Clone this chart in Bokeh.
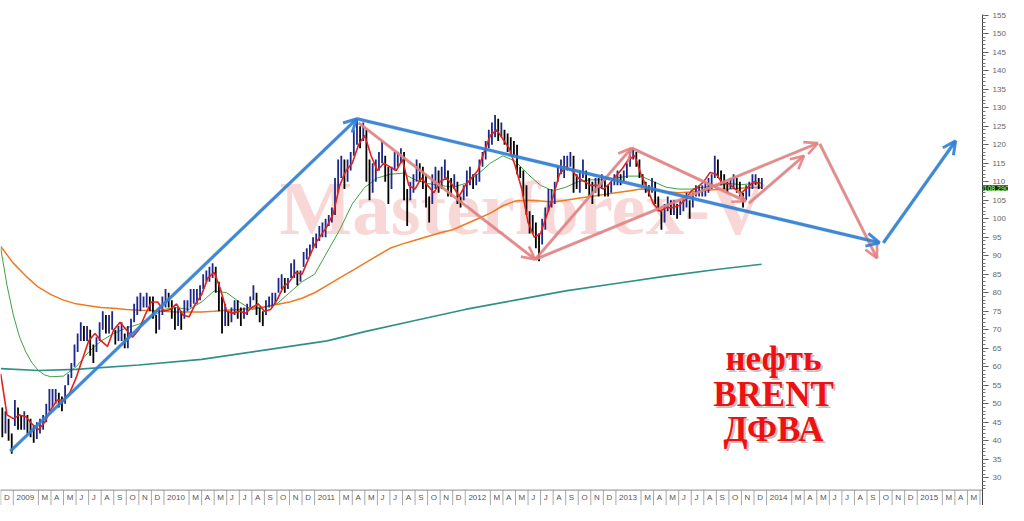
from bokeh.plotting import figure
from bokeh.models import FixedTicker, Range1d, Label, Arrow, OpenHead, ColumnDataSource, Span
from bokeh.embed import file_html
from bokeh.resources import INLINE
from bokeh.core.properties import value

# ---------------- data ----------------
# x unit: months since 1 Jan 2009 (Dec 2008 = -1)
FIRST_MONTH = -1
WEEKS_PER_MONTH = 4

# weekly high / low, Dec 2008 .. Dec 2013
weekly_high = [
    49, 48, 46, 42,  51, 49, 47, 48,  47, 46, 44, 45,  46, 47, 50, 54,
    54, 54, 53, 52,  55, 58, 61, 66,  69, 72, 71, 71,  70, 66, 68, 72,
    75, 74, 74, 75,  70, 71, 72, 69,  71, 73, 77, 79,  80, 79, 80, 79,
    79, 74, 76, 79,  81, 80, 78, 76,  76, 75, 78, 78,  81, 81, 81, 82,
    85, 86, 87, 88,  87, 83, 79, 77,  75, 76, 78, 78,  76, 76, 77, 79,
    82, 80, 76, 75,  78, 79, 80, 80,  84, 85, 84, 84,  88, 89, 86, 86,
    91, 92, 93, 95,  96, 98, 99, 100, 101, 103, 111, 116, 117, 116, 116, 118,
    124, 127, 125, 126, 124, 116, 115, 116, 118, 121, 117, 114, 114, 118, 118, 119,
    118, 108, 110, 112, 116, 115, 114, 112, 106, 112, 114, 113, 114, 116, 113, 111,
    112, 110, 106, 109, 113, 114, 112, 112, 116, 118, 121, 124, 126, 128, 127, 126,
    124, 123, 122, 121, 120, 114, 113, 109, 102, 101, 99, 96, 100, 103, 108, 108,
    110, 114, 116, 117, 117, 118, 117, 112, 113, 116, 113, 111, 110, 111, 111, 112,
    111, 109, 110, 112, 113, 112, 113, 115, 118, 119, 118, 116, 112, 110, 109, 111,
    110, 106, 102, 104, 106, 105, 105, 104, 105, 106, 107, 105, 107, 109, 109, 109,
    110, 111, 112, 117, 116, 113, 112, 110, 111, 112, 111, 110, 107, 109, 110, 112,
    112, 111, 111,
]
weekly_low = [
    41, 42, 40, 36.5,  44, 43, 43, 43,  42, 41, 39.5, 40.5,  42, 43, 45, 48,
    49, 50, 49, 48,  50, 55, 57, 60,  64, 67, 67, 67,  63, 61, 64, 67,
    70, 69, 69, 70,  66, 67, 67, 65,  65, 69, 72, 74,  75, 76, 76, 75,
    73, 69, 70, 74,  76, 76, 73, 70,  71, 70, 73, 75,  76, 77, 77, 78,
    81, 83, 83, 84,  80, 75, 69, 71,  71, 72, 74, 73,  71, 73, 74, 76,
    78, 74, 72, 71,  74, 76, 76, 77,  80, 81, 80, 81,  84, 84, 82, 83,
    87, 89, 90, 92,  92, 94, 95, 95,  98, 99, 101, 107,  111, 108, 110, 113,
    117, 120, 119, 121, 110, 105, 107, 110, 113, 115, 110, 104, 108, 113, 114, 115,
    105, 98, 105, 107, 110, 110, 108, 103, 99, 104, 108, 107, 108, 111, 106, 106,
    108, 104, 103, 105, 106, 109, 108, 109, 110, 114, 116, 119, 120, 122, 121, 122,
    120, 118, 117, 117, 112, 111, 106, 101, 96, 96, 92, 88.5, 93, 97, 102, 103,
    104, 110, 112, 111, 113, 114, 107, 108, 107, 111, 108, 106, 104, 107, 106, 108,
    106, 106, 107, 109, 109, 109, 110, 111, 114, 116, 114, 111, 109, 107, 106, 107,
    104, 102, 97, 99, 102, 101, 101, 100, 101, 102, 103, 100, 103, 106, 106, 106,
    106, 107, 108, 111, 111, 109, 108, 107, 108, 108, 107, 106, 103, 105, 106, 108,
    109, 108, 108,
]

# short moving average (red), every half month from Dec 2008
red_ma_start = -1.0
red_ma = [
    58, 47, 46, 47, 46.5, 44.5, 43, 45, 48.5, 51, 51, 53, 57, 62, 67, 69, 67, 65.5,
    70, 72, 70, 68, 70, 74, 77.5, 77.5, 75, 75.5, 77, 74, 73.5, 77, 79.5, 84, 85.5,
    81, 75, 74.5, 75, 74.5, 76, 77, 75, 75.5, 78, 81.5, 83, 85.5, 85, 89, 93, 95.5,
    98, 101.5, 109, 113, 115, 120, 122.5, 117, 113, 115, 114, 113, 116, 109, 108,
    111, 109, 107, 110, 111, 109, 106, 109, 111, 113, 118, 122.5, 124, 121.5, 119,
    114, 108, 99, 95, 96, 101, 106, 112, 114, 113, 111, 110, 109, 109, 108, 109.5,
    111.5, 113.5, 116, 117, 112, 108, 104, 102, 103, 103, 103.5, 105, 107.5, 108.5,
    110, 112.5, 112, 109.5, 109.5, 108, 107, 108.5, 110, 109.5,
]

# medium moving average (green)
green_x = [-1, -0.5, 0, 0.5, 1, 1.5, 2, 2.5, 3] + list(range(4, 60)) + [59.6]
green_ma = [92, 82, 74, 68, 64, 61, 59, 57.8, 57.3,
            57.5, 60, 64, 67, 69, 70.5, 71.5, 73.5, 75.5, 76, 75.5, 77.5, 80.5, 80,
            77.5, 75.5, 76, 77, 80, 83, 85, 91, 97, 104, 108.5, 111, 112, 112.3,
            110.5, 109.5, 109, 108.5, 109.5, 112, 115, 117, 115.5, 112, 109, 107.5,
            108.5, 110, 110.5, 110.5, 111, 111.5, 111.5, 110, 108.5, 108, 108,
            108.5, 109, 109.5, 109.2, 109.5, 109.7]

# long moving average (orange)
orange_x = list(range(-1, 60)) + [59.6]
orange_ma = [92.5, 88, 84.5, 81.5, 79.5, 78, 77, 76.5, 76, 75.8, 75.5, 75.3, 75.2,
             75, 74.8, 74.8, 74.8, 75, 75.3, 75.5, 75.8, 76.2, 76.8, 77.5, 78.5,
             80, 82, 84, 86, 88, 90, 92, 93.2, 94.2, 95.2, 96.2, 97, 98.5, 100,
             101.5, 103.5, 104.8, 105, 104.8, 104.5, 105, 105.5, 106, 106.5, 107,
             107.5, 108, 107.8, 107.3, 107, 107.2, 107.6, 107.9, 108, 108.2, 108.4,
             108.4]

# very long moving average (teal)
teal_x = [-1, 2, 5, 10, 15, 20, 25, 28, 32, 36, 40, 44, 48, 52, 56, 59.6]
teal_ma = [59.5, 59, 59.3, 60.5, 62, 64.5, 67, 69.5, 72.5, 75.5, 78, 80.5, 82.5,
           84.5, 86.3, 87.7]

# forecast arrows (month, price)
blue_arrows = {
    "x0": [-0.24, 27.37, 69.3], "y0": [37.2, 127.0, 93.5],
    "x1": [27.37, 69.0, 75.06], "y1": [127.0, 93.5, 121.0],
}
pink_arrows = {
    "x0": [27.5, 41.57, 49.25, 41.57, 58.6, 64.24],
    "y0": [125.9, 89.0, 119.1, 89.0, 104.2, 120.2],
    "x1": [41.57, 49.25, 58.35, 64.08, 62.98, 68.8],
    "y1": [89.0, 119.1, 104.7, 120.4, 117.0, 89.3],
}

last_price = 108.290
month_letters = ["J", "F", "M", "A", "M", "J", "J", "A", "S", "O", "N", "D"]
first_year = 2009
last_label_month = 76          # May 2015: last label that fits left of the price axis
y_ticks = list(range(30, 160, 5))
watermark = "Masterforex-V"
caption_lines = ["нефть", "BRENT", "ДФВА"]

# ---------------- figure ----------------
Y_MIN, Y_AXIS, Y_MAX = 22.54, 26.7, 155.15     # bottom of page, time-axis line, top
p = figure(width=1008, height=505, output_backend="svg", toolbar_location=None,
           x_range=Range1d(-1.02, 77.2), y_range=Range1d(Y_MIN, Y_MAX),
           x_axis_location=None, y_axis_location="right",
           min_border_left=0, min_border_top=14, min_border_right=0, min_border_bottom=0)
p.outline_line_color = None
p.grid.visible = False
p.background_fill_color = "white"
p.border_fill_color = "white"

ya = p.yaxis[0]
ya.ticker = FixedTicker(ticks=y_ticks, minor_ticks=list(range(27, 156)))
ya.major_tick_in = 0
ya.major_tick_out = 6
ya.minor_tick_in = 0
ya.minor_tick_out = 3
ya.major_label_standoff = 4
ya.major_label_text_font = "Liberation Sans"
ya.major_label_text_font_size = "8px"
ya.major_label_text_color = "#666666"
ya.axis_line_color = "#444444"
ya.major_tick_line_color = "#555555"
ya.minor_tick_line_color = "#777777"

# time scale row (month separators + labels)
sep_x, lab_x, lab_t = [], [], []
for m in range(-1, 78):
    k = m % 12
    if k == 1:
        continue
    sep_x.append(m)
    if m <= last_label_month:
        lab_x.append(m + 0.25)
        lab_t.append(str(first_year + m // 12) if k == 0 else month_letters[k])
p.add_layout(Span(location=Y_AXIS, dimension="width", line_color="#8a8a8a", line_width=1))
p.segment(x0=sep_x, y0=[Y_MIN] * len(sep_x), x1=sep_x, y1=[Y_AXIS] * len(sep_x),
          line_color="#a8a8a8", line_width=1)
p.text(x=lab_x, y=[(Y_MIN + Y_AXIS) / 2] * len(lab_x), text=lab_t,
       text_font=value("Liberation Sans"), text_font_size=value("8px"),
       text_color="#555555", text_align="left", text_baseline="middle")

# watermark (under everything)
p.add_layout(Label(x=21.2, y=102.8, text=watermark, text_font="Liberation Serif",
                   text_font_style="bold", text_font_size="77px", text_color="#f29a9a",
                   text_alpha=0.4, text_baseline="alphabetic", level="underlay"))

# moving averages drawn under the bars except red
p.line(teal_x, teal_ma, line_color="#2f8f8c", line_width=1.6)
p.line(orange_x, orange_ma, line_color="#f07a1e", line_width=1.5)
p.line(green_x, green_ma, line_color="#3fa33f", line_width=1)

# weekly bars
bx, colors = [], []
for i in range(len(weekly_high)):
    m = FIRST_MONTH + i // WEEKS_PER_MONTH
    w = i % WEEKS_PER_MONTH
    bx.append(m + (w + 0.5) / WEEKS_PER_MONTH)
    if i == 0:
        colors.append("#000000")
    else:
        up = weekly_high[i] + weekly_low[i] >= weekly_high[i - 1] + weekly_low[i - 1]
        colors.append("#1e2888" if up else "#000000")
p.segment(x0=bx, y0=weekly_low, x1=bx, y1=weekly_high, line_color=colors, line_width=1.8)

red_x = [red_ma_start + 0.5 * i for i in range(len(red_ma))]
p.line(red_x, red_ma, line_color="#e3201b", line_width=1.6)

# arrows: shadows then strokes
for src, col, lw in ((pink_arrows, "#e97f7f", 2.6), (blue_arrows, "#2a7fd8", 3)):
    s = ColumnDataSource(src)
    p.segment(x0="x0", y0="y0", x1="x1", y1="y1", source=s, line_color="#888888",
              line_alpha=0.25, line_width=lw + 1)
    p.add_layout(Arrow(source=s, x_start="x0", y_start="y0", x_end="x1", y_end="y1",
                       line_color=col, line_width=lw, line_alpha=0.9,
                       end=OpenHead(size=13, line_color=col, line_width=lw, line_alpha=0.9)))

# caption
cap_y = [62.2, 52.5, 43.1]
for txt, yy in zip(caption_lines, cap_y):
    p.add_layout(Label(x=60.55, y=yy, text=txt, text_align="center",
                       text_baseline="alphabetic",
                       text_font="Liberation Serif", text_font_style="bold",
                       text_font_size="35px", text_color="#999999", text_alpha=0.6,
                       x_offset=2, y_offset=-2))
    p.add_layout(Label(x=60.55, y=yy, text=txt, text_align="center",
                       text_baseline="alphabetic",
                       text_font="Liberation Serif", text_font_style="bold",
                       text_font_size="35px", text_color="#ee1111"))

# last price tag on the price axis (kept in the top panel so it is not clipped)
p.add_layout(Label(x=77.2, y=last_price, text=f"{last_price:.3f}", x_offset=1,
                   text_baseline="middle", text_font="Liberation Sans",
                   text_font_size="7px", text_color="#b8ffb8",
                   background_fill_color="#0b330b", border_line_color="#2a8a2a"),
             "above")

open("out.html", "w").write(file_html(p, INLINE))
